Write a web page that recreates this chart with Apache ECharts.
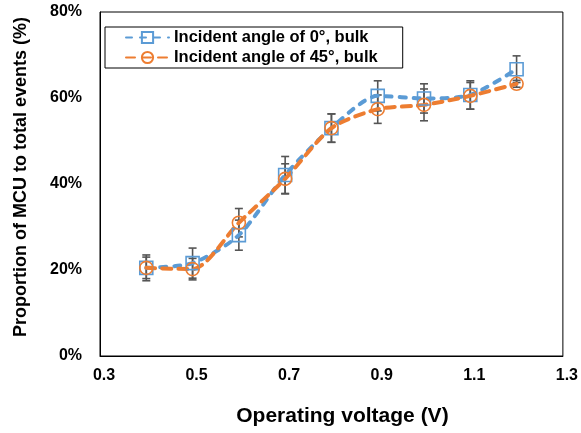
<!DOCTYPE html>
<html><head><meta charset="utf-8">
<script src="https://cdn.jsdelivr.net/npm/echarts@6/dist/echarts.min.js"></script>
<style>html,body{margin:0;padding:0;background:#fff}#c{width:581px;height:433px}</style>
</head><body><div id="c"></div>
<script>
const voltages = [0.4, 0.5, 0.6, 0.7, 0.8, 0.9, 1.0, 1.1, 1.2];
const bulk0 = [20.5, 21.6, 28.1, 42.1, 53.0, 60.5, 59.9, 60.7, 66.7];
const bulk0Err = [3.0, 3.5, 3.5, 4.3, 3.3, 3.5, 3.4, 3.3, 3.1];
const bulk45 = [20.5, 20.2, 31.0, 41.2, 53.0, 57.4, 58.4, 60.5, 63.3];
const bulk45Err = [2.5, 2.5, 3.3, 3.5, 3.3, 3.3, 3.7, 3.1, 0.8];
const xTicks = [0.3, 0.5, 0.7, 0.9, 1.1, 1.3];
const yTicks = [0, 20, 40, 60, 80];
const names = ['Incident angle of 0°, bulk', 'Incident angle of 45°, bulk'];
const colors = ['#5B9BD5', '#ED7D31'];
const font = 'Liberation Sans, Arial, sans-serif';

function errData(vals, errs) {
  return voltages.map((x, i) => [x, vals[i] - errs[i], vals[i] + errs[i]]);
}
function errSeries(name, vals, errs) {
  return {
    type: 'custom', name: name, z: 1,
    data: errData(vals, errs),
    encode: { x: 0, y: [1, 2] },
    renderItem: function (params, api) {
      const x = api.value(0);
      const lo = api.coord([x, api.value(1)]);
      const hi = api.coord([x, api.value(2)]);
      const hw = 4;
      const st = { stroke: '#555555', lineWidth: 1.6 };
      return { type: 'group', children: [
        { type: 'line', shape: { x1: lo[0], y1: lo[1], x2: hi[0], y2: hi[1] }, style: st },
        { type: 'line', shape: { x1: lo[0] - hw, y1: lo[1], x2: lo[0] + hw, y2: lo[1] }, style: st },
        { type: 'line', shape: { x1: hi[0] - hw, y1: hi[1], x2: hi[0] + hw, y2: hi[1] }, style: st }
      ]};
    }
  };
}
function lineSeries(idx, vals, symbol, dash) {
  return {
    type: 'line', name: names[idx], z: 3,
    data: voltages.map((x, i) => [x, vals[i]]),
    smooth: 0.25,
    symbol: symbol, symbolSize: 13,
    itemStyle: { color: 'rgba(255,255,255,0)', borderColor: colors[idx], borderWidth: 1.6 },
    lineStyle: { color: colors[idx], width: 4, type: dash, cap: 'round' }
  };
}

const chart = echarts.init(document.getElementById('c'));
chart.setOption({
  animation: false,
  backgroundColor: '#fff',
  grid: { left: 100, right: 15, top: 12, bottom: 77, show: true, borderColor: '#000', borderWidth: 1 },
  legend: {
    data: names, orient: 'vertical', left: 105, top: 27,
    borderColor: '#000', borderWidth: 1, padding: [2, 25, 2, 20],
    itemWidth: 43, itemHeight: 14, itemGap: 3,
    textStyle: { fontFamily: font, fontWeight: 'bold', fontSize: 16.5, color: '#000' }
  },
  xAxis: {
    type: 'value', min: 0.3, max: 1.3,
    splitLine: { show: false },
    axisLine: { lineStyle: { color: '#000' } },
    axisTick: { show: false },
    axisLabel: { customValues: xTicks, formatter: v => v.toFixed(1), margin: 12,
      padding: [0, 0, 0, 8],
      fontFamily: font, fontWeight: 'bold', fontSize: 16, color: '#000' },
    name: 'Operating voltage (V)', nameLocation: 'middle', nameGap: 50,
    nameTextStyle: { fontFamily: font, fontWeight: 'bold', fontSize: 21, color: '#000', padding: [0, 0, 0, 22] }
  },
  yAxis: {
    type: 'value', min: 0, max: 80, interval: 20,
    splitLine: { show: false },
    axisLine: { show: true, lineStyle: { color: '#000' } },
    axisTick: { show: false },
    axisLabel: { customValues: yTicks, formatter: '{value}%', margin: 18,
      fontFamily: font, fontWeight: 'bold', fontSize: 16, color: '#000' },
    name: 'Proportion of MCU to total events (%)', nameLocation: 'middle', nameGap: 70,
    nameTextStyle: { fontFamily: font, fontWeight: 'bold', fontSize: 18, color: '#000', padding: [0, 0, 0, 14] }
  },
  series: [
    errSeries('err0', bulk0, bulk0Err),
    errSeries('err45', bulk45, bulk45Err),
    lineSeries(0, bulk0, 'rect', [6, 8]),
    lineSeries(1, bulk45, 'circle', [9, 7])
  ]
});
</script></body></html>
